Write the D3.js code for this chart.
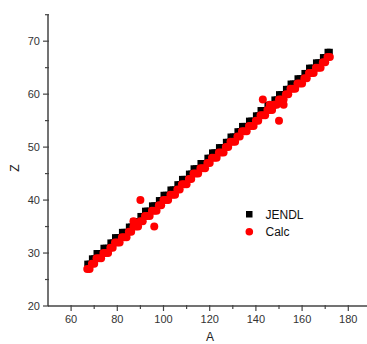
<!DOCTYPE html>
<html><head><meta charset="utf-8">
<script src="https://cdn.jsdelivr.net/npm/d3@7"></script>
<style>
html,body{margin:0;padding:0;background:#fff;overflow:hidden;}
svg{display:block;font-family:"Liberation Sans",Arial,sans-serif;}
</style></head>
<body><svg id="c" width="367" height="344"></svg>
<script>
const jendlA = [67,68,69,70,71,72,73,74,75,76,77,78,79,80,81,82,83,84,85,86,87,88,89,90,91,92,93,94,95,96,97,98,99,100,101,102,103,104,105,106,107,108,109,110,111,112,113,114,115,116,117,118,119,120,121,122,123,124,125,126,127,128,129,130,131,132,133,134,135,136,137,138,139,140,141,142,143,144,145,146,147,148,149,150,151,152,153,154,155,156,157,158,159,160,161,162,163,164,165,166,167,168,169,170,171,172];
const jendlZ = [28,28,29,29,30,30,30,31,31,31, 32,32,33,33,33,34,34,34,35,35, 36,36,36,37,37,38,38,38,39,39, 39,40,40,41,41,41,42,42,42,43, 43,44,44,44,45,45,46,46,46,47, 47,47,48,48,49,49,49,50,50,50, 51,51,52,52,52,53,53,54,54,54, 55,55,55,56,56,57,57,57,58,58, 58,59,59,60,60,60,61,61,62,62, 62,63,63,63,64,64,65,65,65,66, 66,66,67,67,68,68];
const calcA = [67,68,69,70,71,72,73,74,75,76,77,78,79,80,81,82,83,84,85,86,87,88,89,90,91,92,93,94,95,96,97,98,99,100,101,102,103,104,105,106,107,108,109,110,111,112,113,114,115,116,117,118,119,120,121,122,123,124,125,126,127,128,129,130,131,132,133,134,135,136,137,138,139,140,141,142,143,144,145,146,147,148,149,150,151,152,153,154,155,156,157,158,159,160,161,162,163,164,165,166,167,168,169,170,171,172, 87,90,96,143,146,148,150,152];
const calcZ = [27,27,28,28,29,29,29,30,30,30, 31,31,32,32,32,33,33,33,34,34, 35,35,35,36,36,37,37,37,38,38, 38,39,39,40,40,40,41,41,41,42, 42,43,43,43,44,44,45,45,45,46, 46,46,47,47,48,48,48,49,49,49, 50,50,51,51,51,52,52,53,53,53, 54,54,54,55,55,56,56,56,57,57, 57,58,58,59,59,59,60,60,61,61, 61,62,62,62,63,63,64,64,64,65, 65,65,66,66,67,67, 36,40,35,59,58,58,55,58];
const xTicks = [60,80,100,120,140,160,180];
const yTicks = [20,30,40,50,60,70];
const seriesNames = ["JENDL","Calc"];

const svg = d3.select("#c");
const x = d3.scaleLinear().domain([50,190]).range([48,371.4]);
const y = d3.scaleLinear().domain([20,75]).range([306,14.7]);
const axCol = "#444";

const xMinor = [70,90,110,130,150,170,190];
const yMinor = [25,35,45,55,65,75];

const gx = svg.append("g").attr("transform","translate(0,306)");
gx.append("line").attr("x1",48).attr("x2",371.4).attr("stroke",axCol).attr("stroke-width",1.5);
gx.selectAll(".mj").data(xTicks).join("line").attr("x1",d=>x(d)).attr("x2",d=>x(d)).attr("y1",-1).attr("y2",5).attr("stroke",axCol).attr("stroke-width",1.2);
gx.selectAll(".mn").data(xMinor).join("line").attr("x1",d=>x(d)).attr("x2",d=>x(d)).attr("y1",-1).attr("y2",3).attr("stroke",axCol).attr("stroke-width",1.2);
gx.selectAll("text").data(xTicks).join("text").attr("x",d=>x(d)).attr("y",17).attr("text-anchor","middle").attr("font-size",11).attr("fill","#333").text(d=>d);

const gy = svg.append("g").attr("transform","translate(48,0)");
gy.append("line").attr("y1",306).attr("y2",14.7).attr("stroke",axCol).attr("stroke-width",1.5);
gy.selectAll(".mj").data(yTicks).join("line").attr("y1",d=>y(d)).attr("y2",d=>y(d)).attr("x1",1).attr("x2",-5).attr("stroke",axCol).attr("stroke-width",1.2);
gy.selectAll(".mn").data(yMinor).join("line").attr("y1",d=>y(d)).attr("y2",d=>y(d)).attr("x1",1).attr("x2",-3).attr("stroke",axCol).attr("stroke-width",1.2);
gy.selectAll("text").data(yTicks).join("text").attr("x",-8).attr("y",d=>y(d)).attr("dy","0.35em").attr("text-anchor","end").attr("font-size",11).attr("fill","#333").text(d=>d);

svg.append("text").attr("x",210).attr("y",341).attr("text-anchor","middle").attr("font-size",12).attr("fill","#222").text("A");
svg.append("text").attr("transform","translate(19,168) rotate(-90)").attr("text-anchor","middle").attr("font-size",12).attr("fill","#222").text("Z");

const sq = 6;
svg.append("g").selectAll("rect").data(jendlA.map((a,i)=>[a,jendlZ[i]])).join("rect")
  .attr("x",d=>x(d[0])-sq/2).attr("y",d=>y(d[1])-sq/2).attr("width",sq).attr("height",sq).attr("fill","#000");
svg.append("g").selectAll("circle").data(calcA.map((a,i)=>[a,calcZ[i]])).join("circle")
  .attr("cx",d=>x(d[0])).attr("cy",d=>y(d[1])).attr("r",4).attr("fill","#ff0000");

const lg = svg.append("g");
lg.append("rect").attr("x",246).attr("y",211).attr("width",6.5).attr("height",6.5).attr("fill","#000");
lg.append("circle").attr("cx",249.3).attr("cy",231.7).attr("r",3.8).attr("fill","#ff0000");
lg.append("text").attr("x",265.5).attr("y",214.3).attr("dy","0.35em").attr("font-size",12).attr("fill","#111").text(seriesNames[0]);
lg.append("text").attr("x",265.5).attr("y",232).attr("dy","0.35em").attr("font-size",12).attr("fill","#111").text(seriesNames[1]);
</script></body></html>
